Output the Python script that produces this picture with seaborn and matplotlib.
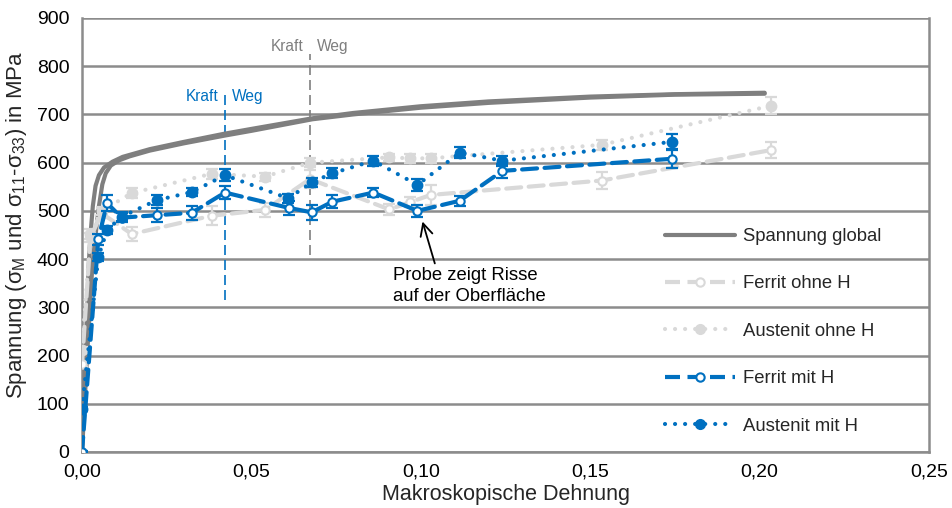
import matplotlib
matplotlib.use("Agg")
import matplotlib.pyplot as plt
from matplotlib.lines import Line2D
import numpy as np
import pandas as pd
import seaborn as sns

# global stress-strain curves (two specimens)
global_a_x = [0.0, 0.001, 0.002, 0.0025, 0.0032, 0.004, 0.005, 0.0065, 0.009, 0.012, 0.02, 0.03,
              0.042, 0.05, 0.068, 0.08, 0.1, 0.12, 0.15, 0.175, 0.2015]
global_a_y = [0, 200, 390, 450, 510, 552, 574, 590, 602, 612, 628, 643,
              660, 670, 692, 703, 717, 727, 737, 742, 745]
global_b_x = [0.0, 0.0015, 0.003, 0.004, 0.005, 0.006, 0.007, 0.0085, 0.011, 0.014, 0.02, 0.03,
              0.042, 0.05, 0.068, 0.08, 0.1, 0.12, 0.15, 0.175, 0.2015]
global_b_y = [0, 200, 380, 450, 510, 555, 578, 594, 605, 613, 625, 640,
              656, 666, 690, 700, 714, 724, 735, 741, 743]

# phase-specific stresses
ferrit_ohne_x = [0.0, 0.0025, 0.0058, 0.0147, 0.0383, 0.0540, 0.0673, 0.0907, 0.0968, 0.1029, 0.1534, 0.2033]
ferrit_ohne_y = [182, 445, 495, 452, 490, 502, 566, 503, 518, 533, 563, 626]
ferrit_ohne_e = [6, 10, 10, 14, 20, 14, 18, 12, 10, 20, 18, 16]

austenit_ohne_x = [0.0, 0.0025, 0.0058, 0.0147, 0.0383, 0.0540, 0.0673, 0.0907, 0.0968, 0.1029, 0.1534, 0.2033]
austenit_ohne_y = [212, 452, 500, 537, 577, 571, 600, 611, 609, 609, 637, 718]
austenit_ohne_e = [6, 10, 8, 10, 10, 8, 10, 8, 10, 10, 10, 18]

ferrit_mit_x = [0.0, 0.0048, 0.0074, 0.0117, 0.0220, 0.0324, 0.0422, 0.0612, 0.0678, 0.0739, 0.0860,
                0.0990, 0.1115, 0.1241, 0.1740]
ferrit_mit_y = [0, 441, 516, 486, 491, 496, 538, 506, 497, 519, 538, 500, 521, 583, 608]
ferrit_mit_e = [3, 12, 16, 10, 14, 14, 14, 14, 16, 14, 10, 12, 10, 14, 20]

austenit_mit_x = [0.0, 0.0048, 0.0074, 0.0117, 0.0220, 0.0324, 0.0422, 0.0609, 0.0678, 0.0739, 0.0860,
                  0.0990, 0.1116, 0.1240, 0.1740]
austenit_mit_y = [89, 404, 460, 488, 522, 539, 574, 526, 559, 578, 604, 554, 621, 604, 643]
austenit_mit_e = [5, 8, 8, 10, 10, 8, 12, 10, 10, 10, 10, 12, 12, 10, 16]

x_ticks = [0.0, 0.05, 0.10, 0.15, 0.20, 0.25]
x_tick_labels = ["0,00", "0,05", "0,10", "0,15", "0,20", "0,25"]
y_ticks = [0, 100, 200, 300, 400, 500, 600, 700, 800, 900]

# Kraft/Weg switch markers
switch_blue_x = 0.0422
switch_gray_x = 0.0673

BLUE = "#0070C0"
LIGHT = "#D9D9D9"
DARK = "#7F7F7F"
GRID = "#8C8C8C"

DASH = (0, (3.6, 1.8))
DOT = (0, (0.01, 2.4))

sns.set_theme(style="white")
plt.rcParams["font.family"] = ["Liberation Sans", "DejaVu Sans"]

fig = plt.figure(figsize=(9.52, 5.08), dpi=100)
ax = fig.add_axes([82 / 952, 1 - 452 / 508, (929 - 82) / 952, (452 - 18) / 508])

# global curves
for gx, gy in [(global_a_x, global_a_y), (global_b_x, global_b_y)]:
    sns.lineplot(x=gx, y=gy, ax=ax, color=DARK, lw=3, legend=False, zorder=3)

series = [
    ("Ferrit ohne H", ferrit_ohne_x, ferrit_ohne_y, ferrit_ohne_e, LIGHT, DASH, "white", 4),
    ("Austenit ohne H", austenit_ohne_x, austenit_ohne_y, austenit_ohne_e, LIGHT, DOT, LIGHT, 4),
    ("Ferrit mit H", ferrit_mit_x, ferrit_mit_y, ferrit_mit_e, BLUE, DASH, "white", 5),
    ("Austenit mit H", austenit_mit_x, austenit_mit_y, austenit_mit_e, BLUE, DOT, BLUE, 5),
]

for name, sx, sy, se, col, ls, mfc, z in series:
    df = pd.DataFrame({"x": sx, "y": sy})
    ax.errorbar(sx, sy, yerr=se, fmt="none", ecolor=col, elinewidth=1.6, capsize=4,
                capthick=1.6, zorder=z)
    sns.lineplot(data=df, x="x", y="y", ax=ax, color=col, lw=3, linestyle=ls,
                 dash_capstyle="round", marker="o", markersize=6 if mfc == "white" else 7,
                 markerfacecolor=mfc, markeredgecolor=col, markeredgewidth=1.5,
                 legend=False, zorder=z)

# Kraft / Weg dividers
ax.plot([switch_blue_x, switch_blue_x], [315, 748], color=BLUE, lw=1.2, ls=(0, (6, 3)), zorder=2)
ax.plot([switch_gray_x, switch_gray_x], [408, 825], color=DARK, lw=1.2, ls=(0, (6, 3)), zorder=2)
ax.text(switch_blue_x - 0.002, 737, "Kraft", color=BLUE, fontsize=11.2, ha="right", va="center")
ax.text(switch_blue_x + 0.002, 737, "Weg", color=BLUE, fontsize=11.2, ha="left", va="center")
ax.text(switch_gray_x - 0.002, 840, "Kraft", color=DARK, fontsize=11.2, ha="right", va="center")
ax.text(switch_gray_x + 0.002, 840, "Weg", color=DARK, fontsize=11.2, ha="left", va="center")

ax.annotate("Probe zeigt Risse\nauf der Oberfläche", xy=(0.1005, 478), xytext=(0.0918, 345),
            fontsize=13.3, color="black", ha="left", va="center", linespacing=1.3,
            arrowprops=dict(arrowstyle="->", color="black", lw=1.3, mutation_scale=22,
                            shrinkA=0, shrinkB=0, relpos=(0.28, 1.0)))

ax.set_xlim(0, 0.25)
ax.set_ylim(0, 900)
ax.set_xticks(x_ticks)
ax.set_xticklabels(x_tick_labels)
ax.set_yticks(y_ticks)
ax.yaxis.grid(True, color=GRID, lw=1.8)
ax.xaxis.grid(False)
ax.set_axisbelow(True)
for side in ["left", "bottom", "right"]:
    ax.spines[side].set_color(GRID)
    ax.spines[side].set_linewidth(1.8)
ax.spines["top"].set_visible(False)
ax.tick_params(axis="both", direction="out", length=5, width=1.5, color=GRID,
               labelsize=14, labelcolor="black", pad=4)
ax.tick_params(axis="x", pad=3)

ax.set_xlabel("Makroskopische Dehnung", fontsize=15.5, labelpad=3)
ax.set_ylabel(r"Spannung (σ$_\mathregular{M}$ und σ$_\mathregular{11}$-σ$_\mathregular{33}$) in MPa",
              fontsize=16)
ax.yaxis.set_label_coords(-0.062, 0.523)

handles = [
    Line2D([], [], color=DARK, lw=3),
    Line2D([], [], color=LIGHT, lw=3, ls=DASH, marker="o", markersize=6,
           markerfacecolor="white", markeredgecolor=LIGHT, markeredgewidth=1.5),
    Line2D([], [], color=LIGHT, lw=3, ls=DOT, dash_capstyle="round", marker="o",
           markersize=7, markerfacecolor=LIGHT, markeredgecolor=LIGHT),
    Line2D([], [], color=BLUE, lw=3, ls=DASH, marker="o", markersize=6,
           markerfacecolor="white", markeredgecolor=BLUE, markeredgewidth=1.5),
    Line2D([], [], color=BLUE, lw=3, ls=DOT, dash_capstyle="round", marker="o",
           markersize=7, markerfacecolor=BLUE, markeredgecolor=BLUE),
]
labels = ["Spannung global", "Ferrit ohne H", "Austenit ohne H", "Ferrit mit H", "Austenit mit H"]
fig.legend(handles, labels, loc="upper left", bbox_to_anchor=(665 / 952, 1 - 228 / 508),
           frameon=False, fontsize=13.3, handlelength=3.8, handletextpad=0.4,
           labelspacing=1.65, borderpad=0, borderaxespad=0)

fig.savefig("out.png", dpi=100)
